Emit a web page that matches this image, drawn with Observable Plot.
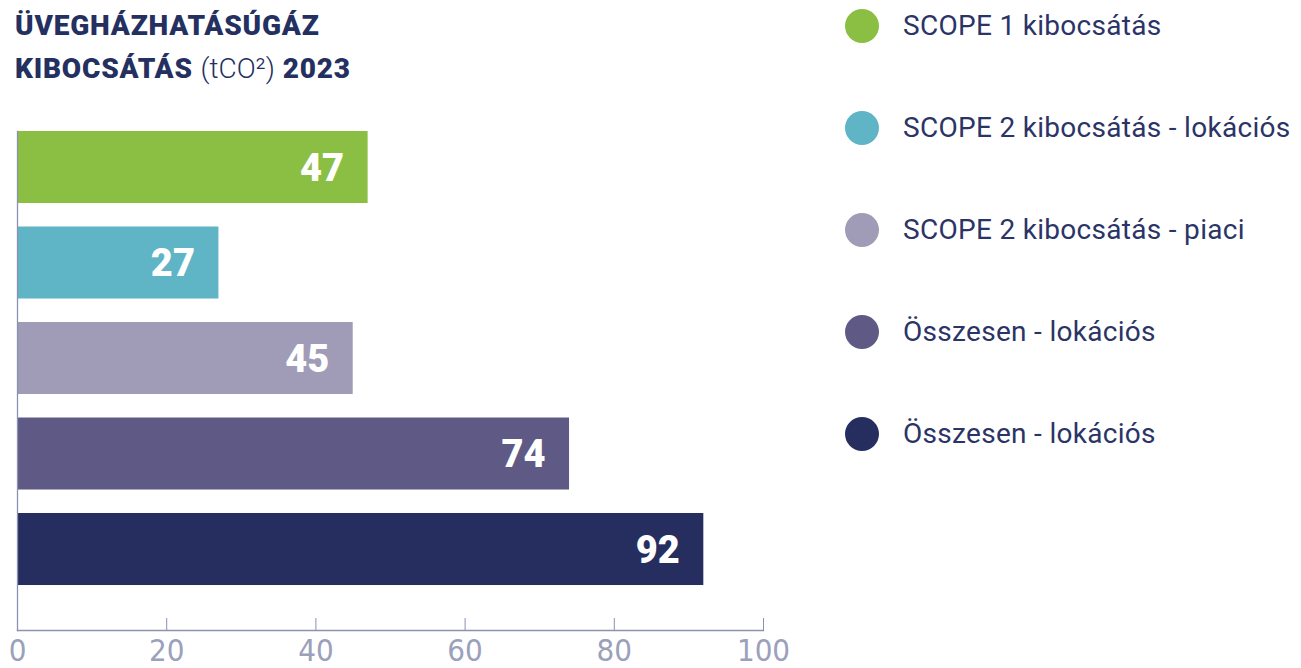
<!DOCTYPE html>
<html>
<head>
<meta charset="utf-8">
<script src="https://cdn.jsdelivr.net/npm/d3@7"></script>
<script src="https://cdn.jsdelivr.net/npm/@observablehq/plot@0.6"></script>
<style>
  html, body { margin: 0; padding: 0; background: #fff; }
  #wrap { position: relative; width: 1301px; height: 668px; overflow: hidden; }
  #chart { position: absolute; left: 0; top: 0; }
  #title { position: absolute; left: 15px; top: 4px; font-family: Roboto, sans-serif; font-size: 28px; line-height: 43px; font-weight: 900; color: #24305f; letter-spacing: 0.8px; }
  #title .light { font-weight: 300; letter-spacing: 0; }
  #legend { position: absolute; left: 845px; top: 9px; display: flex; flex-direction: column; gap: 68px; }
  .item { display: flex; align-items: center; height: 34px; }
  .sw { width: 34px; height: 34px; border-radius: 50%; margin-right: 24px; flex: none; }
  .lab { font-family: Roboto, sans-serif; font-size: 28px; line-height: 34px; color: #2b3466; white-space: nowrap; letter-spacing: 0.3px; }
  #chart svg text.barlab { letter-spacing: 1px; }
</style>
</head>
<body>
<div id="wrap">
  <div id="chart"></div>
  <div id="title">ÜVEGHÁZHATÁSÚGÁZ<br>KIBOCSÁTÁS <span class="light">(tCO²)</span> 2023</div>
  <div id="legend"></div>
</div>
<script>
const labels = ["SCOPE 1 kibocsátás", "SCOPE 2 kibocsátás - lokációs", "SCOPE 2 kibocsátás - piaci", "Összesen - lokációs", "Összesen - lokációs"];
const values = [47, 27, 45, 74, 92];
const colors = ["#8bbf44", "#5fb4c6", "#a09bb7", "#5e5a85", "#262e60"];
const xTicks = [0, 20, 40, 60, 80, 100];

const rows = labels.map((label, i) => ({id: i, label, value: values[i]}));
const ids = rows.map(d => d.id);

const chart = Plot.plot({
  width: 1301,
  height: 668,
  marginTop: 131,
  marginBottom: 38,
  marginLeft: 17,
  marginRight: 538,
  x: {domain: [0, 100], label: null},
  y: {domain: ids, axis: null, paddingInner: 0.246, paddingOuter: 0.2355, align: 0, round: false},
  color: {domain: ids, range: colors},
  style: {background: "transparent"},
  marks: [
    Plot.barX(rows, {y: "id", x: "value", fill: "id"}),
    Plot.text(rows, {y: "id", x: "value", text: d => String(d.value), textAnchor: "end", dx: -24, dy: 1, fill: "white", fontSize: 38, fontWeight: 900, fontFamily: "Roboto, sans-serif", className: "barlab"}),
    Plot.frame({anchor: "left", stroke: "#8d91b0", strokeWidth: 1.3}),
    Plot.frame({anchor: "bottom", stroke: "#8d91b0", strokeWidth: 1.3}),
    Plot.ruleX(xTicks.filter(t => t > 0), {x: d => d, insetTop: 487, stroke: "#8d91b0", strokeWidth: 1}),
    Plot.axisX(xTicks, {tickSize: 0, tickPadding: 8, label: null, fill: "#9ba0bb", fontSize: 31, fontFamily: "'Liberation Sans Narrow', 'DejaVu Sans Condensed', sans-serif", fontWeight: 300, tickFormat: d => String(d)})
  ]
});
document.getElementById("chart").appendChild(chart);

const legend = document.getElementById("legend");
labels.forEach((l, i) => {
  const item = document.createElement("div");
  item.className = "item";
  const sw = document.createElement("div");
  sw.className = "sw";
  sw.style.background = colors[i];
  const lab = document.createElement("div");
  lab.className = "lab";
  lab.textContent = l;
  item.appendChild(sw);
  item.appendChild(lab);
  legend.appendChild(item);
});
</script>
</body>
</html>
